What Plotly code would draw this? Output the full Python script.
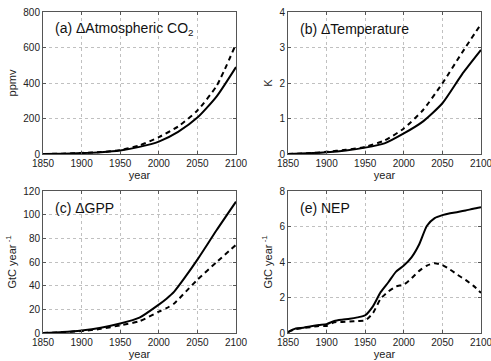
import plotly.graph_objects as go

# ---- data ----
co2_years = [1850, 1875, 1900, 1925, 1950, 1975, 2000, 2025, 2050, 2075, 2100]
co2_solid = [0, 2, 5, 10, 20, 40, 70, 125, 205, 325, 490]
co2_dash = [0, 2, 6, 11, 22, 48, 95, 155, 245, 385, 620]

tmp_years = [1850, 1875, 1900, 1925, 1950, 1975, 2000, 2025, 2050, 2075, 2100]
tmp_solid = [0, 0.02, 0.05, 0.1, 0.18, 0.3, 0.58, 0.92, 1.43, 2.23, 2.93]
tmp_dash = [0, 0.02, 0.06, 0.12, 0.2, 0.38, 0.72, 1.24, 1.99, 2.84, 3.66]

gpp_years = [1850, 1875, 1900, 1925, 1950, 1975, 2000, 2010, 2020, 2035, 2050, 2075, 2100]
gpp_solid = [0, 0.8, 2.2, 4.5, 8, 13, 24, 29, 35, 48, 62, 87, 111]
gpp_dash = [0, 0.6, 1.6, 3.5, 6.5, 10, 18, 21, 25, 35, 45, 60, 74.5]

nep_years = [1850, 1860, 1870, 1880, 1890, 1900, 1910, 1920, 1930, 1940, 1950,
             1960, 1970, 1980, 1990, 2000, 2010, 2020, 2030, 2040, 2050,
             2060, 2070, 2080, 2090, 2100]
nep_solid = [0.05, 0.25, 0.3, 0.38, 0.45, 0.5, 0.68, 0.75, 0.8, 0.88, 1.0,
             1.5, 2.3, 2.86, 3.46, 3.8, 4.26, 5.0, 6.04, 6.47, 6.64,
             6.75, 6.82, 6.9, 7.0, 7.08]
nep_dash = [0.05, 0.22, 0.28, 0.33, 0.4, 0.4, 0.6, 0.62, 0.65, 0.68, 0.71,
            1.12, 1.93, 2.34, 2.62, 2.73, 3.08, 3.5, 3.8, 3.93, 3.83,
            3.57, 3.27, 2.99, 2.67, 2.26]

x_ticks = [1850, 1900, 1950, 2000, 2050, 2100]

panels = [
    dict(years=co2_years, s=co2_solid, d=co2_dash, yr=[0, 800], dt=200,
         ytitle="ppmv", label="(a) ΔAtmospheric CO<sub>2</sub>"),
    dict(years=tmp_years, s=tmp_solid, d=tmp_dash, yr=[0, 4], dt=1,
         ytitle="K", label="(b) ΔTemperature"),
    dict(years=gpp_years, s=gpp_solid, d=gpp_dash, yr=[0, 120], dt=20,
         ytitle="GtC year<sup> -1</sup>", label="(c) ΔGPP"),
    dict(years=nep_years, s=nep_solid, d=nep_dash, yr=[0, 8], dt=2,
         ytitle="GtC year<sup> -1</sup>", label="(e) NEP"),
]

W, H = 491, 361
xdoms = [[43 / W, 236 / W], [288 / W, 481 / W]]
ydoms = [[1 - 154 / H, 1 - 12 / H], [1 - 333 / H, 1 - 191 / H]]

fig = go.Figure()
font = "Liberation Sans, Arial, sans-serif"
layout = dict(width=W, height=H, margin=dict(l=0, r=0, t=0, b=0),
              paper_bgcolor="white", plot_bgcolor="white", showlegend=False,
              font=dict(family=font, color="#222", size=10))
annotations = []
for i, p in enumerate(panels):
    r, c = divmod(i, 2)
    n = "" if i == 0 else str(i + 1)
    xa, ya = "x" + n, "y" + n
    fig.add_trace(go.Scatter(x=p["years"], y=p["s"], mode="lines",
                             line=dict(color="black", width=2, shape="spline", smoothing=0.6),
                             xaxis=xa, yaxis=ya))
    fig.add_trace(go.Scatter(x=p["years"], y=p["d"], mode="lines",
                             line=dict(color="black", width=2, dash="5px,4px",
                                       shape="spline", smoothing=0.6),
                             xaxis=xa, yaxis=ya))
    common = dict(showline=True, linecolor="#555", linewidth=1, mirror="ticks",
                  ticks="inside", ticklen=3, tickcolor="#555",
                  showgrid=True, gridcolor="#c0c0c0", griddash="dot", gridwidth=1,
                  zeroline=False, automargin=False, ticklabeloverflow="allow",
                  tickfont=dict(size=10, family=font, color="#222"))
    layout["xaxis" + n] = dict(common, domain=xdoms[c], range=[1850, 2100],
                               tickvals=x_ticks, anchor=ya,
                               title=dict(text="year", standoff=0,
                                          font=dict(size=11, family=font)))
    layout["yaxis" + n] = dict(common, domain=ydoms[r], range=p["yr"],
                               dtick=p["dt"], anchor=xa,
                               title=dict(text=p["ytitle"], standoff=4,
                                          font=dict(size=11, family=font)))
    annotations.append(dict(xref=xa + " domain", yref=ya + " domain", x=0.05, y=0.88,
                            xanchor="left", yanchor="middle", showarrow=False,
                            text=p["label"], font=dict(size=14, family=font, color="#111")))
layout["annotations"] = annotations
fig.update_layout(**layout)
fig.write_html("out.html", config={"displayModeBar": False},
               post_script="document.body.style.margin='0px';document.body.style.overflow='hidden';")
